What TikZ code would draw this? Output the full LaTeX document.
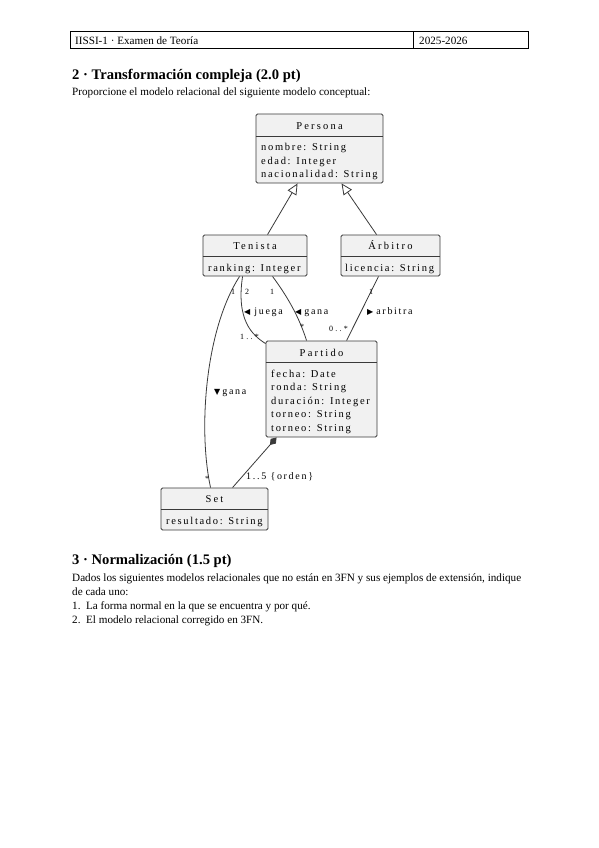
\documentclass[tikz,border=0pt]{standalone}
\usepackage{fontspec}
\setmainfont{Liberation Serif}
\newfontfamily\diagfont[LetterSpace=16]{Liberation Serif}
\newfontfamily\ttlfont[LetterSpace=21]{Liberation Serif}
\newfontfamily\lblfont[LetterSpace=17]{Liberation Serif}
\newfontfamily\multfont[LetterSpace=28]{Liberation Serif}
\newfontfamily\symfont{DejaVu Sans}
\usetikzlibrary{arrows.meta,calc}
\definecolor{clsfill}{HTML}{F1F1F1}
\definecolor{clsline}{HTML}{3A3A3A}
\newcommand{\tri}[1]{{\symfont\fontsize{8}{9}\selectfont #1}}
\begin{document}
\begin{tikzpicture}[x=1pt,y=1pt,
  cls/.style={draw=clsline, fill=clsfill, rounded corners=1.5pt, line width=0.9pt, inner sep=0pt},
  ttl/.style={font=\ttlfont\fontsize{10.5}{11}\selectfont, inner sep=0pt, anchor=base},
  attr/.style={font=\diagfont\fontsize{10.5}{11}\selectfont, inner sep=0pt, anchor=base west},
  mult/.style={font=\multfont\fontsize{8}{9}\selectfont, inner sep=0pt, anchor=base west},
  lbl/.style={font=\lblfont\fontsize{10}{11}\selectfont, inner sep=0pt, anchor=base west},
  conn/.style={draw=clsline, line width=0.8pt},
  txt/.style={inner sep=0pt, anchor=base west, font=\fontsize{11.15}{13}\selectfont},
  hd/.style={inner sep=0pt, anchor=base west, font=\bfseries\fontsize{14.6}{16}\selectfont}
]
\useasboundingbox[fill=white] (0,0) rectangle (599,-848);

% header
\node[draw=black, line width=1pt, minimum width=458pt, minimum height=17pt, inner sep=0pt] (hdr) at (299,-40.5) {};
\draw[line width=1pt] ([xshift=344pt]hdr.north west) -- ([xshift=344pt]hdr.south west);
\node[txt] (h1) at (75,-44.5) {IISSI-1 · Examen de Teoría};
\node[txt] (h2) at (419,-44.5) {2025-2026};

\node[hd] (s2) at (72,-80) {2 · Transformación compleja (2.0 pt)};
\node[txt] (p2) at (72,-96) {Proporcione el modelo relacional del siguiente modelo conceptual:};

% classes
\node[cls, minimum width=127pt, minimum height=69pt] (persona) at (319.5,-148.5) {};
\draw[clsline, line width=0.8pt] ([yshift=-23pt]persona.north west) -- ([yshift=-23pt]persona.north east);
\node[ttl] (personat) at (319.5,-129.5) {Persona};
\node[attr] (pa1) at (261,-150.5) {nombre: String};
\node[attr] (pa2) at (261,-164) {edad: Integer};
\node[attr] (pa3) at (261,-177.5) {nacionalidad: String};

\node[cls, minimum width=104pt, minimum height=41pt] (tenista) at (255,-255.5) {};
\draw[clsline, line width=0.8pt] ([yshift=-22pt]tenista.north west) -- ([yshift=-22pt]tenista.north east);
\node[ttl] (tenistat) at (255,-249.5) {Tenista};
\node[attr] (ta1) at (208,-271) {ranking: Integer};

\node[cls, minimum width=99pt, minimum height=41pt] (arbitro) at (390.5,-255.5) {};
\draw[clsline, line width=0.8pt] ([yshift=-22pt]arbitro.north west) -- ([yshift=-22pt]arbitro.north east);
\node[ttl] (arbitrot) at (390.5,-249.5) {Árbitro};
\node[attr] (aa1) at (345,-271) {licencia: String};

\node[cls, minimum width=111pt, minimum height=96pt] (partido) at (321.5,-389) {};
\draw[clsline, line width=0.8pt] ([yshift=-22pt]partido.north west) -- ([yshift=-22pt]partido.north east);
\node[ttl] (partidot) at (321.5,-356.5) {Partido};
\node[attr] (pt1) at (271,-377) {fecha: Date};
\node[attr] (pt2) at (271,-390.5) {ronda: String};
\node[attr] (pt3) at (271,-404) {duración: Integer};
\node[attr] (pt4) at (271,-417.5) {torneo: String};
\node[attr] (pt5) at (271,-431.5) {torneo: String};

\node[cls, minimum width=107pt, minimum height=42pt] (set) at (214.5,-509) {};
\draw[clsline, line width=0.8pt] ([yshift=-22pt]set.north west) -- ([yshift=-22pt]set.north east);
\node[ttl] (sett) at (214.5,-502.5) {Set};
\node[attr] (sa1) at (166,-524) {resultado: String};

% generalization
\draw[conn, -{Triangle[open, length=11pt, width=10pt]}] ([xshift=65pt]tenista.north west) -- ([xshift=42pt]persona.south west);
\draw[conn, -{Triangle[open, length=11pt, width=10pt]}] ([xshift=36pt]arbitro.north west) -- ([xshift=86pt]persona.south west);

% associations
\draw[conn] ([xshift=37pt]tenista.south west) .. controls (205,-330) and (198,-430) .. ([xshift=50pt]set.north west);
\draw[conn] ([xshift=40pt]tenista.south west) .. controls (236,-320) and (252,-335) .. ([yshift=-3pt]partido.north west);
\draw[conn] ([xshift=70pt]tenista.south west) .. controls (290,-300) and (300,-320) .. ([xshift=41pt]partido.north west);
\draw[conn] ([xshift=38pt]arbitro.south west) -- ([xshift=81pt]partido.north west);
\draw[conn, {Diamond[length=10pt, width=7pt]}-] ([xshift=11pt]partido.south west) -- ([xshift=72pt]set.north west);

% multiplicities and labels
\node[mult] (m1) at (231,-294) {1};
\node[mult] (m2) at (245,-294) {2};
\node[mult] (m3) at (270,-294) {1};
\node[mult] (m4) at (369,-294) {1};
\node[mult] (m5) at (240,-339) {1..*};
\node[mult] (m6) at (300,-329) {*};
\node[mult] (m7) at (329,-331) {0..*};
\node[mult] (m8) at (205,-481) {*};
\node[lbl] (l1) at (244,-314) {\tri{◀}\hspace{4pt}juega};
\node[lbl] (l2) at (295,-314) {\tri{◀}\hspace{3pt}gana};
\node[lbl] (l3) at (367,-314) {\tri{▶}\hspace{3pt}arbitra};
\node[lbl] (l4) at (214,-394) {\tri{▼}\hspace{2pt}gana};
\node[lbl] (l5) at (246,-479) {1..5 \{orden\}};

% section 3
\node[hd] (s3) at (72,-564) {3 · Normalización (1.5 pt)};
\node[txt] (p3a) at (72,-581) {Dados los siguientes modelos relacionales que no están en 3FN y sus ejemplos de extensión, indique};
\node[txt] (p3b) at (72,-595) {de cada uno:};
\node[txt] (p3c) at (72,-609) {1.\enspace La forma normal en la que se encuentra y por qué.};
\node[txt] (p3d) at (72,-623) {2.\enspace El modelo relacional corregido en 3FN.};
\end{tikzpicture}
\end{document}
